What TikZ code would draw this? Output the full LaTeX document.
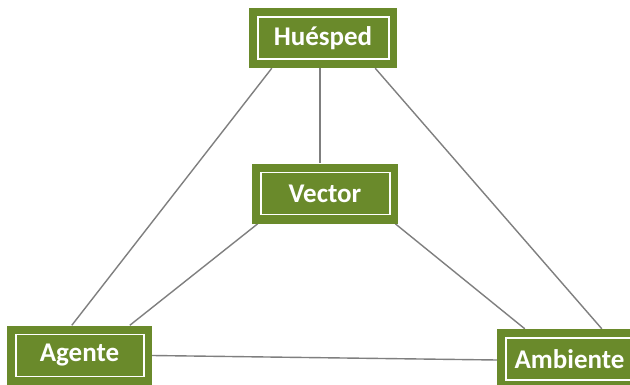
\documentclass[tikz,border=0pt]{standalone}
\usepackage{fontspec}
\setmainfont{Carlito}
\usetikzlibrary{calc,backgrounds}
\definecolor{boxgreen}{HTML}{6A8A2B}
\definecolor{linkgray}{HTML}{7F7F7F}
\tikzset{
  x=1pt, y=1pt,
  concept/.style={
    fill=boxgreen, draw=none, inner sep=0pt,
    minimum width=146pt, minimum height=60pt,
    text=white, font=\bfseries\fontsize{27}{30}\selectfont,
    path picture={
      \draw[white, line width=1.4pt]
        ([shift={(9pt,-9pt)}]path picture bounding box.north west)
        rectangle
        ([shift={(-8pt,9pt)}]path picture bounding box.south east);
    }
  },
  link/.style={draw=linkgray, line width=1.4pt}
}
\begin{document}
\begin{tikzpicture}
\useasboundingbox (0,0) rectangle (630,384);
\clip (0,0) rectangle (630,384);

% concept boxes
\node[concept, minimum width=148pt] (hu) at (323,346) {Huésped};
\node[concept] (ve) at (325,190.5) {Vector};
\node[concept, minimum width=145pt] (ag) at (79.5,28.5) {Agente};
\node[concept, minimum width=145pt] (am) at (569.5,25) {Ambiente};

% white page and connectors, drawn behind the boxes
\begin{scope}[on background layer]
\fill[white] (0,0) rectangle (630,384);
\path[link] ([xshift=23pt]hu.south west) -- ([xshift=65pt]ag.north west);
\path[link] ([xshift=-22pt]hu.south east) -- ([xshift=105pt]am.north west);
\path[link] ([xshift=-3pt]hu.south) -- ([xshift=-5pt]ve.north);
\path[link] ([xshift=6pt]ve.south west) -- ([xshift=123pt]ag.north west);
\path[link] ([xshift=-3pt]ve.south east) -- ([xshift=28pt]am.north west);
\path[link] (ag.east) -- ([yshift=-1pt]am.west);
\end{scope}
\end{tikzpicture}
\end{document}
